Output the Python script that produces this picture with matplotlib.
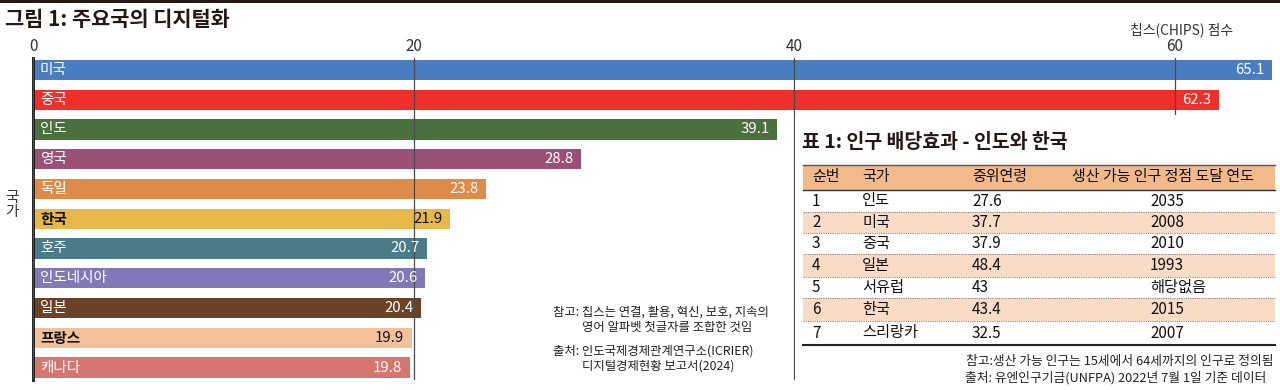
import matplotlib
matplotlib.use('Agg')
import matplotlib.pyplot as plt
from matplotlib.patches import Rectangle
from matplotlib.lines import Line2D

plt.rcParams['font.family'] = ['Noto Sans CJK KR', 'DejaVu Sans']

# ---------------- data ----------------
countries = ['미국', '중국', '인도', '영국', '독일', '한국', '호주', '인도네시아', '일본', '프랑스', '캐나다']
chips = [65.1, 62.3, 39.1, 28.8, 23.8, 21.9, 20.7, 20.6, 20.4, 19.9, 19.8]
bar_colors = ['#4a7dbf', '#ee2f2a', '#4a703e', '#9a5077', '#de8a48', '#e8b74a',
              '#4a7c88', '#8378b7', '#6b4226', '#f4c09a', '#d5776e']
dark_label_countries = ['한국', '프랑스']
x_ticks = [0, 20, 40, 60]

table_headers = ['순번', '국가', '중위연령', '생산 가능 인구 정점 도달 연도']
table_rank = ['1', '2', '3', '4', '5', '6', '7']
table_country = ['인도', '미국', '중국', '일본', '서유럽', '한국', '스리랑카']
table_median_age = ['27.6', '37.7', '37.9', '48.4', '43', '43.4', '32.5']
table_peak_year = ['2035', '2008', '2010', '1993', '해당없음', '2015', '2007']

W, H = 1280, 390
fig = plt.figure(figsize=(W / 100, H / 100), dpi=100)
fig.patch.set_facecolor('white')

def fx(x):
    return x / W

def fy(y):
    return 1 - y / H

# top rule
fig.add_artist(Rectangle((0, fy(2.5)), 1, 2.5 / H, transform=fig.transFigure,
                         color='#231815', lw=0))

fig.text(fx(5), fy(20), '그림 1: 주요국의 디지털화', fontsize=15, fontweight='bold',
         ha='left', va='center', color='#231815')

# ---------------- bar chart ----------------
ax_l, ax_r, ax_t, ax_b = 33, 1276, 58, 380
ax = fig.add_axes([fx(ax_l), fy(ax_b), (ax_r - ax_l) / W, (ax_b - ax_t) / H])
n = len(countries)
ypos = list(range(n))
ax.barh(ypos, chips, height=0.68, color=bar_colors, edgecolor='none')
ax.set_xlim(0, 65.3)
ax.set_ylim(10.42, -0.4)
ax.set_xticks(x_ticks)
ax.set_yticks([])
ax.xaxis.tick_top()
ax.tick_params(axis='x', length=0, pad=2, labelsize=11, labelcolor='#333333')
ax.set_axisbelow(False)
ax.grid(axis='x', color='#4a4a4a', lw=0.9)
for s in ['top', 'right', 'bottom']:
    ax.spines[s].set_visible(False)
ax.spines['left'].set_color('#111111')
ax.spines['left'].set_linewidth(2)

for i, (c, v) in enumerate(zip(countries, chips)):
    dark = c in dark_label_countries
    col = '#111111' if dark else 'white'
    ax.annotate(c, xy=(0, i), xytext=(5, 0), textcoords='offset points',
                ha='left', va='center', fontsize=10.5, color=col,
                fontweight='bold' if dark else 'normal')
    ax.annotate(f'{v:.1f}', xy=(v, i), xytext=(-5.5, 0), textcoords='offset points',
                ha='right', va='center', fontsize=10.8, color=col)

fig.text(fx(1233), fy(30), '칩스(CHIPS) 점수', fontsize=10, ha='right', va='center',
         color='#333333')
fig.text(fx(12), fy(205), '국\n가', fontsize=10.5, ha='center', va='center',
         color='#333333', linespacing=1.0)

# notes (middle)
note_kw = dict(fontsize=8.9, color='#222222', ha='left', va='center')
fig.text(fx(553), fy(312), '참고: 칩스는 연결, 활용, 혁신, 보호, 지속의', **note_kw)
fig.text(fx(582), fy(327), '영어 알파벳 첫글자를 조합한 것임', **note_kw)
fig.text(fx(553), fy(351), '출처: 인도국제경제관계연구소(ICRIER)', **note_kw)
fig.text(fx(582), fy(366), '디지털경제현황 보고서(2024)', **note_kw)

# ---------------- table ----------------
tl, tr, tt, tb = 795, 1280, 115, 390
tax = fig.add_axes([fx(tl), fy(tb), (tr - tl) / W, (tb - tt) / H])
tax.set_xlim(tl, tr)
tax.set_ylim(tb, tt)
tax.set_facecolor('white')
tax.set_xticks([])
tax.set_yticks([])
for s in tax.spines.values():
    s.set_visible(False)

tax.text(802, 142, '표 1: 인구 배당효과 - 인도와 한국', fontsize=14, fontweight='bold',
         ha='left', va='center', color='#231815')

x0, x1 = 803, 1275
hdr_top, hdr_bot = 165, 190
row_edges = [190, 212, 233, 254, 277, 298, 321, 345]
col_x = [812, 862, 972, 1150]
hdr_x = [812, 862, 972, 1072]

tax.add_patch(Rectangle((x0, hdr_top), x1 - x0, hdr_bot - hdr_top, color='#f2b98a', lw=0))
tax.add_line(Line2D([x0, x1], [hdr_top, hdr_top], color='#555555', lw=1.0))
tax.add_line(Line2D([x0, x1], [hdr_bot, hdr_bot], color='#333333', lw=1.0))
for h, x in zip(table_headers, hdr_x):
    tax.text(x, (hdr_top + hdr_bot) / 2, h, fontsize=10.8, ha='left', va='center',
             color='#111111')

rows = list(zip(table_rank, table_country, table_median_age, table_peak_year))
for r, vals in enumerate(rows):
    top, bot = row_edges[r], row_edges[r + 1]
    if r % 2 == 1:
        tax.add_patch(Rectangle((x0, top), x1 - x0, bot - top, color='#fadcc6', lw=0))
    if r < len(rows) - 1:
        tax.add_line(Line2D([x0, x1], [bot, bot], color='#888888', lw=0.8, ls=(0, (1, 1))))
    for v, x in zip(vals, col_x):
        tax.text(x, (top + bot) / 2, v, fontsize=11, ha='left', va='center',
                 color='#111111')
tax.add_line(Line2D([x0, x1], [row_edges[-1], row_edges[-1]], color='#222222', lw=1.5))

tax.text(1273, 361, '참고:생산 가능 인구는 15세에서 64세까지의 인구로 정의됨', fontsize=9.2,
         ha='right', va='center', color='#222222')
tax.text(965, 378, '출처: 유엔인구기금(UNFPA) 2022년 7월 1일 기준 데이터', fontsize=9.2,
         ha='left', va='center', color='#222222')

fig.savefig('out.png', dpi=100)
